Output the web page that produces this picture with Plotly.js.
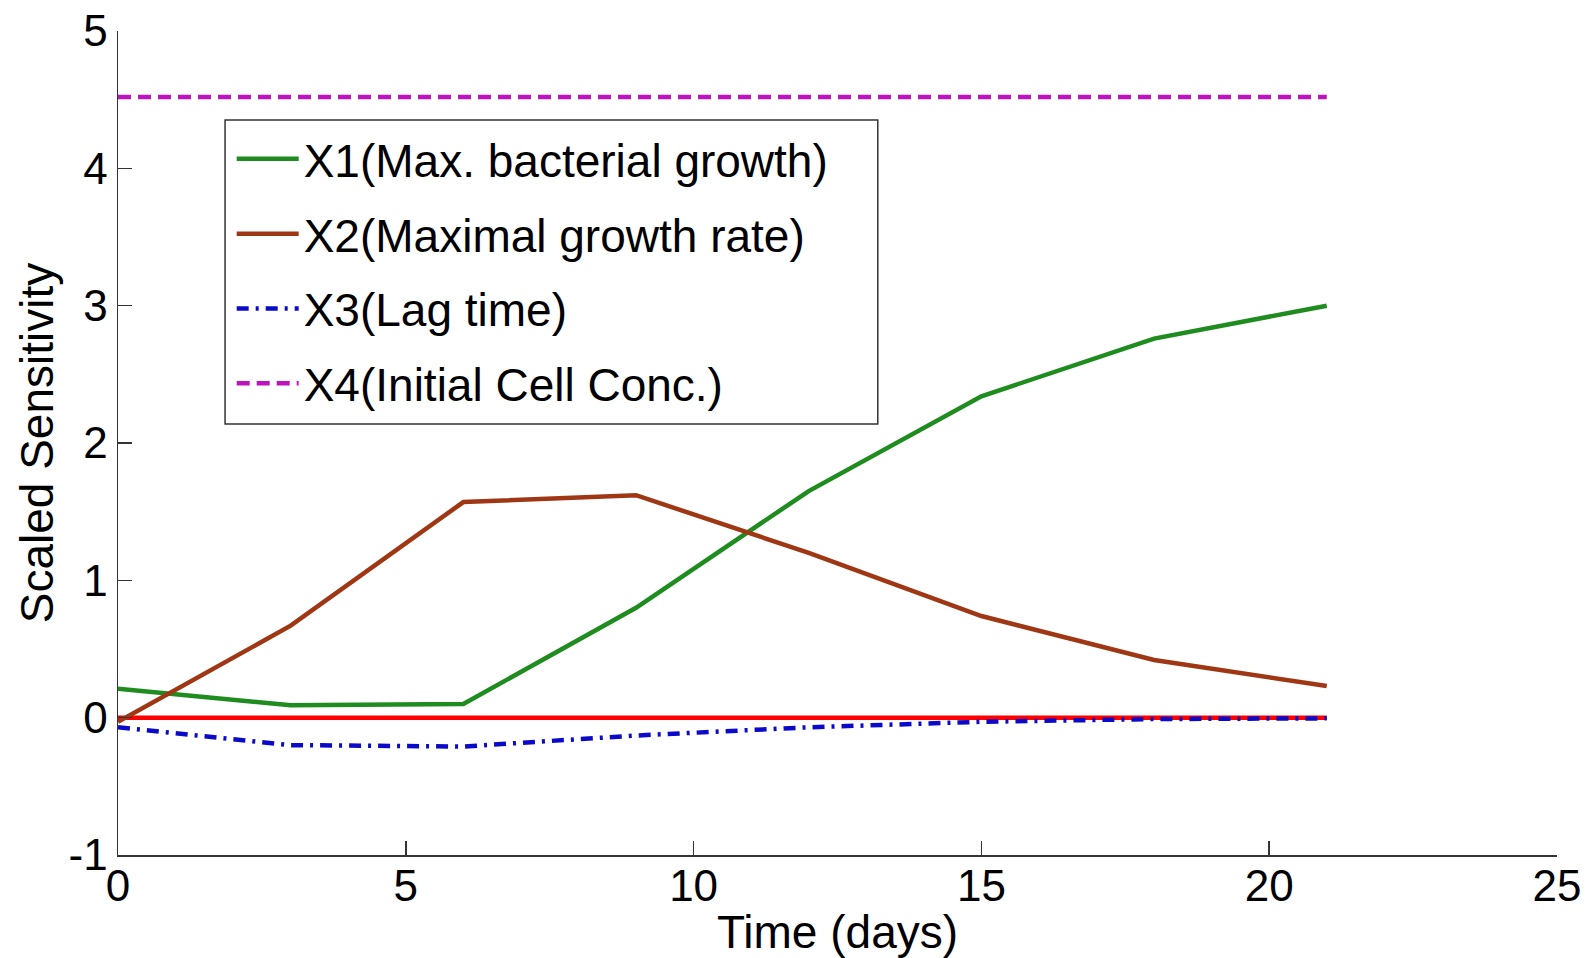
<!DOCTYPE html>
<html>
<head>
<meta charset="utf-8">
<script src="https://cdn.plot.ly/plotly-3.0.1.min.js"></script>
<style>html,body{margin:0;padding:0;background:#fff;}#chart{width:1595px;height:958px;}</style>
</head>
<body>
<div id="chart"></div>
<script>
var days = [0, 3, 6, 9, 12, 15, 18, 21];
var x1 = [0.21, 0.09, 0.10, 0.80, 1.65, 2.34, 2.76, 3.00];
var x2 = [-0.03, 0.67, 1.57, 1.62, 1.20, 0.74, 0.42, 0.23];
var x3 = [-0.07, -0.20, -0.21, -0.13, -0.07, -0.03, -0.01, -0.005];
var x4 = [4.52, 4.52, 4.52, 4.52, 4.52, 4.52, 4.52, 4.52];
var zeroLine = [0, 0, 0, 0, 0, 0, 0, 0];
var names = ["X1(Max. bacterial growth)", "X2(Maximal growth rate)", "X3(Lag time)", "X4(Initial Cell Conc.)"];
var xTicks = [0, 5, 10, 15, 20, 25];
var yTicks = [-1, 0, 1, 2, 3, 4, 5];

var traces = [
  {x: days, y: zeroLine, mode: "lines", line: {color: "rgb(255,0,0)", width: 4.5}, showlegend: false, hoverinfo: "skip"},
  {x: days, y: x1, name: names[0], legendgroup: "a", mode: "lines", line: {color: "rgb(30,140,30)", width: 4.5}},
  {x: days, y: x2, name: names[1], legendgroup: "b", mode: "lines", line: {color: "rgb(160,55,20)", width: 4.5}},
  {x: days, y: x3, name: names[2], legendgroup: "c", mode: "lines", line: {color: "rgb(10,10,200)", width: 4.5, dash: "12px,7px,3px,7px"}},
  {x: days, y: x4, name: names[3], legendgroup: "d", mode: "lines", line: {color: "rgb(190,20,190)", width: 4.5, dash: "13px,7px"}}
];

var layout = {
  width: 1595, height: 958,
  paper_bgcolor: "#fff", plot_bgcolor: "#fff",
  margin: {l: 118, r: 38, t: 31, b: 103},
  font: {family: "Liberation Sans, Arial, sans-serif", color: "#000", size: 44},
  showlegend: true,
  legend: {
    x: 0.079, y: 0.889, xanchor: "left", yanchor: "top",
    bgcolor: "rgba(255,255,255,0)", borderwidth: 0,
    font: {size: 46, color: "#000"},
    itemwidth: 62, traceorder: "grouped", tracegroupgap: 12
  },
  shapes: [{
    type: "rect", xref: "paper", yref: "paper",
    x0: 0.0744, x1: 0.528, y0: 0.523, y1: 0.892,
    line: {color: "#333", width: 1.5}, fillcolor: "#fff", layer: "above"
  }],
  xaxis: {
    range: [0, 25], tickvals: xTicks, ticktext: xTicks.map(String),
    showline: true, linecolor: "#333", linewidth: 1.5, mirror: false,
    ticks: "inside", ticklen: 14, tickcolor: "#333", tickwidth: 1.5,
    showgrid: false, zeroline: false,
    tickfont: {size: 44}, ticklabelstandoff: -8,
    title: {text: "Time (days)", font: {size: 46}, standoff: 0}
  },
  yaxis: {
    range: [-1, 5], tickvals: yTicks, ticktext: yTicks.map(String),
    showline: true, linecolor: "#333", linewidth: 1.5, mirror: false,
    ticks: "inside", ticklen: 14, tickcolor: "#333", tickwidth: 1.5,
    showgrid: false, zeroline: false,
    tickfont: {size: 44},
    title: {text: "Scaled Sensitivity", font: {size: 46}, standoff: 0}
  }
};

Plotly.newPlot("chart", traces, layout, {displayModeBar: false, staticPlot: true});
</script>
</body>
</html>
